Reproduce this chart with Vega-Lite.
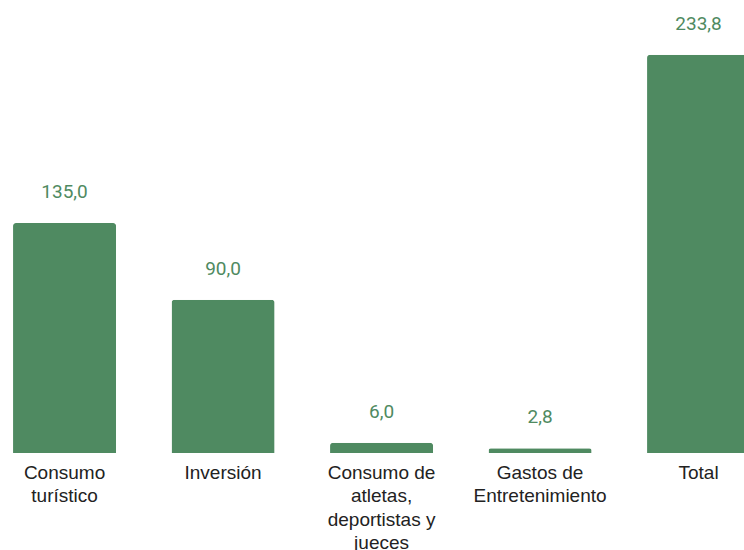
{
  "$schema": "https://vega.github.io/schema/vega-lite/v6.json",
  "width": 744,
  "height": 453,
  "autosize": {"type": "none"},
  "padding": {"left": 0, "right": 0, "top": 0, "bottom": 97},
  "data": {"values": [
    {"cat": "Consumo|turístico", "value": 135.0},
    {"cat": "Inversión", "value": 90.0},
    {"cat": "Consumo de|atletas,|deportistas y|jueces", "value": 6.0},
    {"cat": "Gastos de|Entretenimiento", "value": 2.8},
    {"cat": "Total", "value": 233.8}
  ]},
  "encoding": {
    "x": {
      "field": "cat", "type": "nominal", "sort": null, "title": null,
      "scale": {"range": [-14.7, 777.8], "paddingInner": 0.35, "paddingOuter": 0.175},
      "axis": {
        "labelExpr": "split(datum.label, '|')",
        "labelAngle": 0, "labelFont": "Liberation Sans", "labelFontSize": 19,
        "labelColor": "#222222", "labelLineHeight": 23.5, "labelPadding": 10,
        "labelBaseline": "top", "ticks": false, "domain": false, "grid": false,
        "labelLimit": 300
      }
    },
    "y": {
      "field": "value", "type": "quantitative", "title": null,
      "scale": {"domain": [0, 266], "nice": false},
      "axis": null
    }
  },
  "layer": [
    {"mark": {"type": "bar", "color": "#4f8a61", "cornerRadiusTopLeft": 3, "cornerRadiusTopRight": 3}},
    {"mark": {"type": "text", "color": "#4f8a61", "font": "Roboto", "fontSize": 19, "baseline": "alphabetic", "dy": -25},
     "encoding": {"text": {"field": "value", "type": "quantitative", "format": ".1f"}}}
  ],
  "config": {
    "view": {"stroke": null},
    "locale": {"number": {"decimal": ",", "thousands": ".", "grouping": [3], "currency": ["", " €"]}}
  }
}
